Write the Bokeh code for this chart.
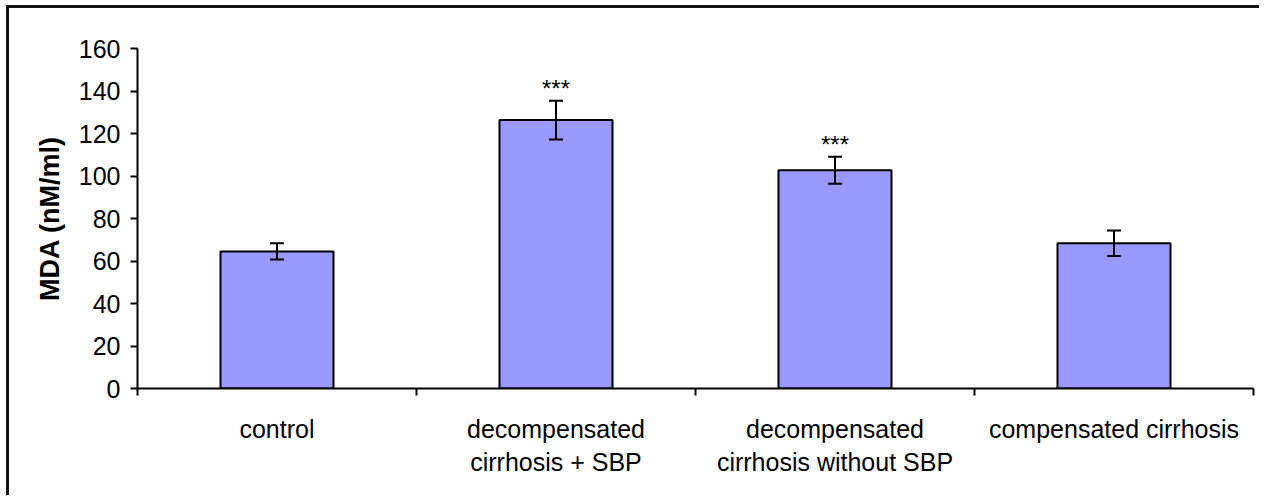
from bokeh.plotting import figure
from bokeh.models import FixedTicker, Whisker, ColumnDataSource, Range1d, TeeHead
from bokeh.core.properties import value
from bokeh.embed import file_html
from bokeh.resources import INLINE

# ---- data ----
categories = ["control",
              "decompensated\ncirrhosis + SBP",
              "decompensated\ncirrhosis without SBP",
              "compensated cirrhosis"]
mda_mean = [64.5, 126.3, 102.7, 68.3]
mda_err = [3.8, 9.1, 6.4, 6.0]
significance = ["", "***", "***", ""]
y_ticks = [0, 20, 40, 60, 80, 100, 120, 140, 160]

FONT = "Liberation Sans"

xpos = [i + 0.5 for i in range(len(categories))]
bounds = [float(i) for i in range(len(categories) + 1)]
upper = [m + e for m, e in zip(mda_mean, mda_err)]
lower = [m - e for m, e in zip(mda_mean, mda_err)]

src = ColumnDataSource(dict(x=xpos, top=mda_mean, upper=upper, lower=lower,
                            sig=significance))

p = figure(width=1253, height=490, output_backend="svg", toolbar_location=None,
           x_range=Range1d(0, len(categories)), y_range=Range1d(0, 160),
           min_border_left=128, min_border_top=40, min_border_right=9,
           min_border_bottom=110)
p.styles = {"border-top": "3px solid #111111", "border-left": "3px solid #111111",
            "border-right": "none", "border-bottom": "none",
            "margin-left": "6px", "margin-top": "5px"}
p.outline_line_color = None
p.xgrid.visible = False
p.ygrid.visible = False
p.background_fill_color = "white"
p.border_fill_color = "white"

p.vbar(x="x", top="top", width=0.405, bottom=0, source=src,
       fill_color="#9999FF", line_color="black", line_width=2)

wh = Whisker(base="x", upper="upper", lower="lower", source=src,
             line_color="black", line_width=2, level="annotation",
             upper_head=TeeHead(size=14, line_width=2, line_color="black"),
             lower_head=TeeHead(size=14, line_width=2, line_color="black"))
p.add_layout(wh)

p.text(x="x", y="upper", text="sig", source=src, text_align="center",
       text_baseline="alphabetic", y_offset=-12, text_font=value(FONT),
       text_font_size="24px", text_color="black")

# y axis
ya = p.yaxis[0]
ya.ticker = FixedTicker(ticks=y_ticks, minor_ticks=[])
ya.major_tick_in = 0
ya.major_tick_out = 7
ya.major_tick_line_width = 2
ya.axis_line_width = 2
ya.axis_line_color = "black"
ya.major_tick_line_color = "black"
ya.major_label_text_font = FONT
ya.major_label_text_font_size = "25px"
ya.major_label_text_color = "black"
ya.major_label_standoff = 10
ya.axis_label = "MDA (nM/ml)"
ya.axis_label_text_font = FONT
ya.axis_label_text_font_style = "bold"
ya.axis_label_text_font_size = "27px"
ya.axis_label_text_color = "black"
ya.axis_label_standoff = 11

# x axis: labels at centres, ticks at category boundaries
xa = p.xaxis[0]
xa.ticker = FixedTicker(ticks=xpos, minor_ticks=bounds)
xa.major_label_overrides = {x: c for x, c in zip(xpos, categories)}
xa.major_tick_in = 0
xa.major_tick_out = 0
xa.minor_tick_in = 0
xa.minor_tick_out = 7
xa.minor_tick_line_width = 2
xa.minor_tick_line_color = "black"
xa.axis_line_width = 2
xa.axis_line_color = "black"
xa.major_label_text_font = FONT
xa.major_label_text_font_size = "25px"
xa.major_label_text_color = "black"
xa.major_label_standoff = 19
xa.major_label_text_line_height = 1.2

open("out.html", "w").write(file_html(p, INLINE))
